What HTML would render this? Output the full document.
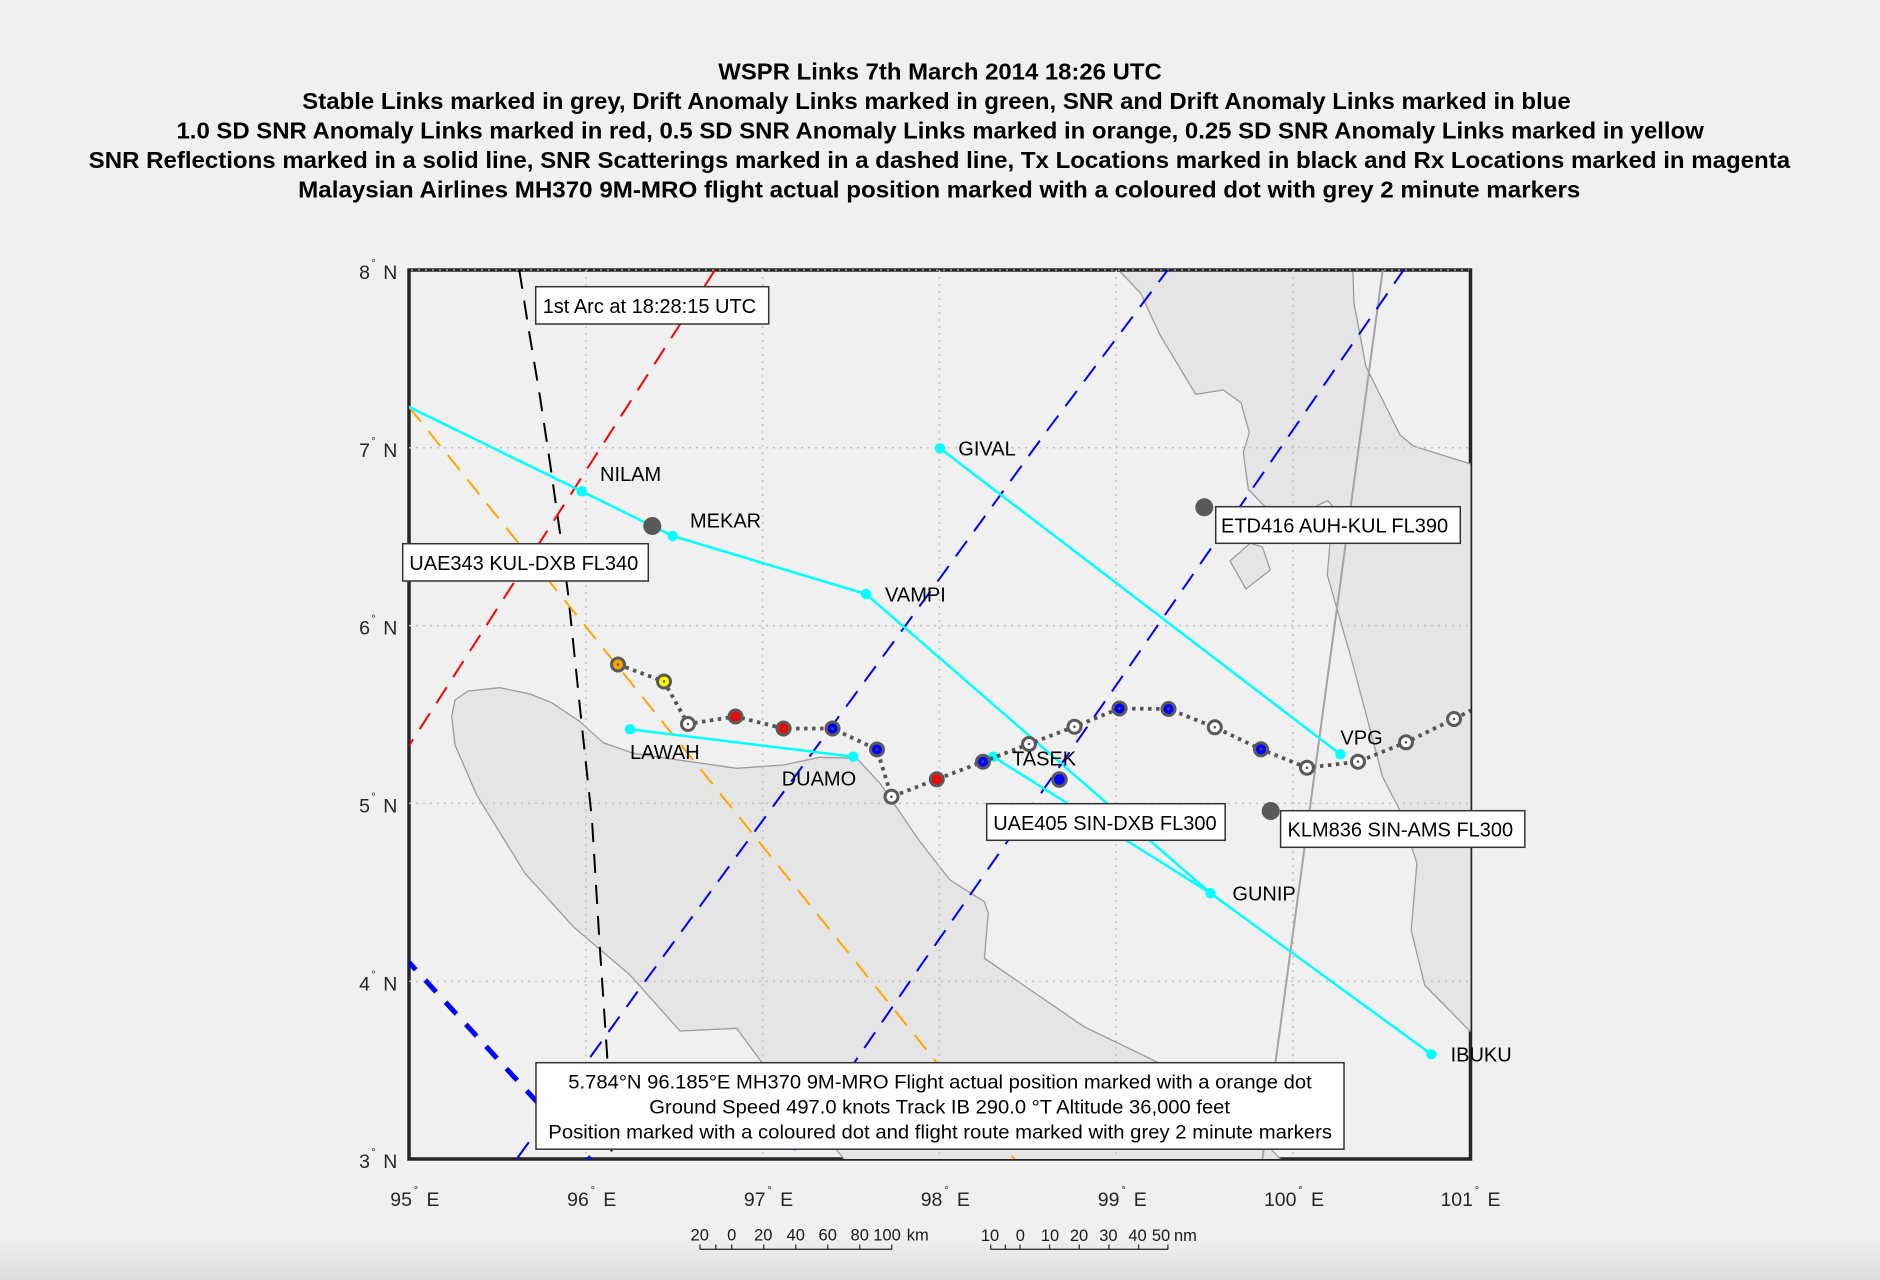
<!DOCTYPE html>
<html>
<head>
<meta charset="utf-8">
<style>
  html,body{margin:0;padding:0;background:#f0f0f0;}
  svg{display:block;}
  text{font-family:"Liberation Sans", Arial, Helvetica, sans-serif;}
</style>
</head>
<body>
<svg width="1880" height="1280" viewBox="0 0 1880 1280" xmlns="http://www.w3.org/2000/svg">
  <defs>
    <clipPath id="mapclip"><rect x="409" y="270" width="1061.5" height="889"/></clipPath>
    <clipPath id="landclip"><rect x="409" y="272" width="1061.5" height="887"/></clipPath>
    <linearGradient id="bottomfade" x1="0" y1="0" x2="0" y2="1">
      <stop offset="0" stop-color="#f0f0f0"/>
      <stop offset="1" stop-color="#dedede"/>
    </linearGradient>
  </defs>

  <!-- background -->
  <rect x="0" y="0" width="1880" height="1280" fill="#f0f0f0"/>
  <rect x="0" y="1236" width="1880" height="44" fill="url(#bottomfade)"/>

  <!-- Title -->
  <g font-weight="bold" font-size="23" fill="#000">
    <text x="718.3" y="79.3" textLength="443.4" lengthAdjust="spacingAndGlyphs">WSPR Links 7th March 2014 18:26 UTC</text>
    <text x="302.3" y="109" textLength="1268.4" lengthAdjust="spacingAndGlyphs">Stable Links marked in grey, Drift Anomaly Links marked in green, SNR and Drift Anomaly Links marked in blue</text>
    <text x="176.5" y="138.5" textLength="1527.3" lengthAdjust="spacingAndGlyphs">1.0 SD SNR Anomaly Links marked in red, 0.5 SD SNR Anomaly Links marked in orange, 0.25 SD SNR Anomaly Links marked in yellow</text>
    <text x="88.7" y="168" textLength="1701.4" lengthAdjust="spacingAndGlyphs">SNR Reflections marked in a solid line, SNR Scatterings marked in a dashed line, Tx Locations marked in black and Rx Locations marked in magenta</text>
    <text x="298.2" y="197.5" textLength="1282.1" lengthAdjust="spacingAndGlyphs">Malaysian Airlines MH370 9M-MRO flight actual position marked with a coloured dot with grey 2 minute markers</text>
  </g>

  <!-- Frame -->
  <rect x="409" y="270" width="1061.5" height="889" fill="#f0f0f0" stroke="#262626" stroke-width="3.5"/>

  <!-- Land -->
  <g clip-path="url(#landclip)" fill="#e5e5e5" stroke="#9c9c9c" stroke-width="1.3" stroke-linejoin="round">
    <!-- Sumatra -->
    <polygon points="880,783.3 920,841.7 950,880 984.4,901.7 988.3,913.3 984.4,958.3 1084,1026.7 1157,1062 1230,1105 1283,1162 846.7,1162 760,1060 736.7,1028.3 680,1031 630,975 573.3,926.7 525,873.3 476.7,795 455,745 451.7,716.7 455,700 468.3,691 500,687.7 530,694 551.7,702.7 580,721.7 603.3,742.7 633.3,753.3 666.7,758.3 736.7,768.3 783.3,765 820,757.3 856.7,758.3"/>
    <!-- Malay peninsula -->
    <polygon points="1116.7,268 1140.7,293.3 1160,335 1195.7,394.3 1223.3,390 1241,402.7 1249.3,432.7 1243.3,452.7 1248.3,489.3 1263.3,505 1290,522 1318.3,505 1327.7,500.7 1333.3,507 1330,543 1327.3,575 1351.7,660 1382.5,776.7 1399.7,810 1416.9,863.3 1411.2,930 1424.6,985 1470.5,1031.7 1473,1031.7 1473,464 1470.7,464 1413.3,446 1400,435 1366,366.7 1354,303.3 1352.7,268"/>
    <!-- island -->
    <polygon points="1250,543.3 1230,561 1246,589 1270.3,570 1262.3,546.7"/>
  </g>

  <!-- Gridlines -->
  <g stroke="#c4c4c4" stroke-width="1.5" stroke-dasharray="2 5" fill="none">
    <line x1="585.8" y1="270" x2="585.8" y2="1159"/>
    <line x1="762.6" y1="270" x2="762.6" y2="1159"/>
    <line x1="939.4" y1="270" x2="939.4" y2="1159"/>
    <line x1="1116.2" y1="270" x2="1116.2" y2="1159"/>
    <line x1="1293" y1="270" x2="1293" y2="1159"/>
    <line x1="409" y1="447.8" x2="1470" y2="447.8"/>
    <line x1="409" y1="625.6" x2="1470" y2="625.6"/>
    <line x1="409" y1="803.4" x2="1470" y2="803.4"/>
    <line x1="409" y1="981.4" x2="1470" y2="981.4"/>
  </g>
  <line x1="411" y1="270" x2="1469" y2="270" stroke="#bdbdbd" stroke-width="1.2" stroke-dasharray="2 5"/>

  <!-- Map content -->
  <g clip-path="url(#mapclip)" fill="none">
    <!-- stable grey link -->
    <line x1="1383" y1="268" x2="1262" y2="1162" stroke="#a3a3a3" stroke-width="2"/>

    <!-- dashed links -->
    <g stroke-width="2" stroke-dasharray="19 12">
      <polyline stroke="#000" points="519.3,270 528.3,327 540,397 550,463 560,533 568,593 575,660 582,727 592,820 600,950 607,1053 612,1162"/>
      <line stroke="#ff0000" x1="715" y1="270" x2="405" y2="752"/>
      <line stroke="#ffa500" x1="409" y1="407" x2="1016" y2="1161"/>
      <polyline stroke="#0000ff" points="1170,267 1050,426.7 895,640 753.3,833.3 640,988.3 516.7,1159 514,1163"/>
      <polyline stroke="#0000ff" points="1405,268 1135,658.3 920,966.7 788.3,1159 786,1162"/>
    </g>
    <line x1="405" y1="958" x2="593" y2="1163" stroke="#0000ff" stroke-width="5" stroke-dasharray="16 14"/>

    <!-- cyan solid links -->
    <g stroke="#00ffff" stroke-width="2.5">
      <polyline points="405,405 581.7,491.3 672.7,536 866,594 1210.6,893.3 1431.4,1054.3"/>
      <line x1="940" y1="448.3" x2="1340.4" y2="754.3"/>
      <line x1="630" y1="729.3" x2="853.3" y2="756.7"/>
      <line x1="993.2" y1="756.7" x2="1210.6" y2="893.3"/>
    </g>
    <g fill="#00ffff">
      <circle cx="581.7" cy="491.3" r="5.2"/>
      <circle cx="672.7" cy="536" r="5.2"/>
      <circle cx="866" cy="594" r="5.2"/>
      <circle cx="940" cy="448.3" r="5.2"/>
      <circle cx="630" cy="729.3" r="5.2"/>
      <circle cx="853.3" cy="756.7" r="5.2"/>
      <circle cx="993.2" cy="756.7" r="5.2"/>
      <circle cx="1340.4" cy="754.3" r="5.2"/>
      <circle cx="1210.6" cy="893.3" r="5.2"/>
      <circle cx="1431.4" cy="1054.3" r="5.2"/>
    </g>

    <!-- other aircraft -->
    <g fill="#595959">
      <circle cx="652.3" cy="526" r="9"/>
      <circle cx="1204.3" cy="507.3" r="9"/>
      <circle cx="1270.7" cy="811" r="9"/>
    </g>

    <!-- flight path -->
    <polyline points="618,664.5 664,681.5 688,724 735.5,716.5 783.5,728.5 832.5,728.5 877,749.5 891.5,796.7 936.8,779.3 983,761.7 1029,744 1074.5,726.7 1119.5,708.5 1168.5,709 1214.8,727.3 1261,749.3 1307,767.7 1358,761.7 1406,742.3 1454,719 1474,709" stroke="#555555" stroke-width="3.8" stroke-dasharray="3.5 4.5"/>
    <g stroke="#5a5a5a" stroke-width="3">
      <circle cx="618" cy="664.5" r="6.5" fill="#ffa500"/>
      <circle cx="664" cy="681.5" r="6.5" fill="#ffff00"/>
      <circle cx="688" cy="724" r="6.5" fill="#ffffff"/>
      <circle cx="735.5" cy="716.5" r="6.5" fill="#ff0000"/>
      <circle cx="783.5" cy="728.5" r="6.5" fill="#ff0000"/>
      <circle cx="832.5" cy="728.5" r="6.5" fill="#0000ff"/>
      <circle cx="877" cy="749.5" r="6.5" fill="#0000ff"/>
      <circle cx="891.5" cy="796.7" r="6.5" fill="#ffffff"/>
      <circle cx="936.8" cy="779.3" r="6.5" fill="#ff0000"/>
      <circle cx="983" cy="761.7" r="6.5" fill="#0000ff"/>
      <circle cx="1029" cy="744" r="6.5" fill="#ffffff"/>
      <circle cx="1074.5" cy="726.7" r="6.5" fill="#ffffff"/>
      <circle cx="1119.5" cy="708.5" r="6.5" fill="#0000ff"/>
      <circle cx="1168.5" cy="709" r="6.5" fill="#0000ff"/>
      <circle cx="1214.8" cy="727.3" r="6.5" fill="#ffffff"/>
      <circle cx="1261" cy="749.3" r="6.5" fill="#0000ff"/>
      <circle cx="1307" cy="767.7" r="6.5" fill="#ffffff"/>
      <circle cx="1358" cy="761.7" r="6.5" fill="#ffffff"/>
      <circle cx="1406" cy="742.3" r="6.5" fill="#ffffff"/>
      <circle cx="1454" cy="719" r="6.5" fill="#ffffff"/>
      <circle cx="1059.4" cy="779.5" r="6.8" fill="#0000ff"/>
    </g>
    <g fill="#555">
      <circle cx="618" cy="664.5" r="1.3"/><circle cx="664" cy="681.5" r="1.3"/><circle cx="688" cy="724" r="1.3"/>
      <circle cx="735.5" cy="716.5" r="1.3"/><circle cx="783.5" cy="728.5" r="1.3"/><circle cx="832.5" cy="728.5" r="1.3"/>
      <circle cx="877" cy="749.5" r="1.3"/><circle cx="891.5" cy="796.7" r="1.3"/><circle cx="936.8" cy="779.3" r="1.3"/>
      <circle cx="983" cy="761.7" r="1.3"/><circle cx="1029" cy="744" r="1.3"/><circle cx="1074.5" cy="726.7" r="1.3"/>
      <circle cx="1119.5" cy="708.5" r="1.3"/><circle cx="1168.5" cy="709" r="1.3"/><circle cx="1214.8" cy="727.3" r="1.3"/>
      <circle cx="1261" cy="749.3" r="1.3"/><circle cx="1307" cy="767.7" r="1.3"/><circle cx="1358" cy="761.7" r="1.3"/>
      <circle cx="1406" cy="742.3" r="1.3"/><circle cx="1454" cy="719" r="1.3"/>
    </g>
  </g>

  <!-- waypoint labels -->
  <g font-size="20" fill="#000">
    <text x="600" y="481">NILAM</text>
    <text x="690" y="527.3">MEKAR</text>
    <text x="958.3" y="455.7">GIVAL</text>
    <text x="885" y="601.7">VAMPI</text>
    <text x="630" y="759">LAWAH</text>
    <text x="781.7" y="785.7">DUAMO</text>
    <text x="1012" y="765.5">TASEK</text>
    <text x="1340.4" y="744.3">VPG</text>
    <text x="1232.4" y="900.7">GUNIP</text>
    <text x="1450.6" y="1061.7">IBUKU</text>
  </g>

  <!-- label boxes -->
  <g fill="#ffffff" stroke="#333" stroke-width="1.5">
    <rect x="535.7" y="286.7" width="233" height="37.3"/>
    <rect x="402.7" y="543.7" width="245.6" height="37.3"/>
    <rect x="1215.7" y="506.7" width="244.6" height="36.6"/>
    <rect x="986.7" y="803.7" width="238.5" height="36.6"/>
    <rect x="1280.6" y="810.7" width="244.2" height="36.6"/>
    <rect x="536" y="1062.7" width="808" height="86.5"/>
  </g>
  <g font-size="20" fill="#000">
    <text x="542.7" y="313">1st Arc at 18:28:15 UTC</text>
    <text x="409.3" y="570">UAE343 KUL-DXB FL340</text>
    <text x="1221" y="532.7">ETD416 AUH-KUL FL390</text>
    <text x="993.2" y="830">UAE405 SIN-DXB FL300</text>
    <text x="1287.5" y="836.7">KLM836 SIN-AMS FL300</text>
  </g>
  <g font-size="19.5" fill="#000">
    <text x="568.3" y="1088.3" textLength="743.4" lengthAdjust="spacingAndGlyphs">5.784°N 96.185°E MH370 9M-MRO Flight actual position marked with a orange dot</text>
    <text x="649.3" y="1113.3" textLength="580.7" lengthAdjust="spacingAndGlyphs">Ground Speed 497.0 knots Track IB 290.0 °T Altitude 36,000 feet</text>
    <text x="548.3" y="1138.3" textLength="783.7" lengthAdjust="spacingAndGlyphs">Position marked with a coloured dot and flight route marked with grey 2 minute markers</text>
  </g>

  <!-- Y axis labels -->
  <g font-size="19.5" fill="#262626">
    <text x="370" y="279" text-anchor="end">8</text><text x="383.3" y="279">N</text>
    <text x="370" y="456.8" text-anchor="end">7</text><text x="383.3" y="456.8">N</text>
    <text x="370" y="634.6" text-anchor="end">6</text><text x="383.3" y="634.6">N</text>
    <text x="370" y="812.6" text-anchor="end">5</text><text x="383.3" y="812.6">N</text>
    <text x="370" y="990.6" text-anchor="end">4</text><text x="383.3" y="990.6">N</text>
    <text x="370" y="1168" text-anchor="end">3</text><text x="383.3" y="1168">N</text>
  </g>
  <g font-size="11" fill="#262626" text-anchor="middle">
    <text x="373.5" y="267">°</text>
    <text x="373.5" y="444.8">°</text>
    <text x="373.5" y="622.6">°</text>
    <text x="373.5" y="800.6">°</text>
    <text x="373.5" y="978.6">°</text>
    <text x="373.5" y="1156">°</text>
  </g>

  <!-- X axis labels -->
  <g font-size="19.5" fill="#262626">
    <text x="412" y="1205.8" text-anchor="end">95</text><text x="426.5" y="1205.8">E</text>
    <text x="588.8" y="1205.8" text-anchor="end">96</text><text x="603.3" y="1205.8">E</text>
    <text x="765.6" y="1205.8" text-anchor="end">97</text><text x="780.1" y="1205.8">E</text>
    <text x="942.4" y="1205.8" text-anchor="end">98</text><text x="956.9" y="1205.8">E</text>
    <text x="1119.5" y="1205.8" text-anchor="end">99</text><text x="1133.7" y="1205.8">E</text>
    <text x="1296.5" y="1205.8" text-anchor="end">100</text><text x="1311" y="1205.8">E</text>
    <text x="1473" y="1205.8" text-anchor="end">101</text><text x="1487.5" y="1205.8">E</text>
  </g>
  <g font-size="11" fill="#262626" text-anchor="middle">
    <text x="416" y="1194">°</text>
    <text x="592.8" y="1194">°</text>
    <text x="769.6" y="1194">°</text>
    <text x="946.4" y="1194">°</text>
    <text x="1123.5" y="1194">°</text>
    <text x="1300.5" y="1194">°</text>
    <text x="1477" y="1194">°</text>
  </g>

  <!-- Scale bars -->
  <g stroke="#333" stroke-width="1.3" fill="none">
    <line x1="700" y1="1249.3" x2="891.7" y2="1249.3"/>
    <line x1="700" y1="1244.5" x2="700" y2="1249.3"/>
    <line x1="715.7" y1="1244.5" x2="715.7" y2="1249.3"/>
    <line x1="731.7" y1="1244.5" x2="731.7" y2="1249.3"/>
    <line x1="763.7" y1="1244.5" x2="763.7" y2="1249.3"/>
    <line x1="795.7" y1="1244.5" x2="795.7" y2="1249.3"/>
    <line x1="827.7" y1="1244.5" x2="827.7" y2="1249.3"/>
    <line x1="859.7" y1="1244.5" x2="859.7" y2="1249.3"/>
    <line x1="891.7" y1="1244.5" x2="891.7" y2="1249.3"/>

    <line x1="990.7" y1="1249.3" x2="1167.9" y2="1249.3"/>
    <line x1="990.7" y1="1244.5" x2="990.7" y2="1249.3"/>
    <line x1="1005.4" y1="1244.5" x2="1005.4" y2="1249.3"/>
    <line x1="1020" y1="1244.5" x2="1020" y2="1249.3"/>
    <line x1="1049.6" y1="1244.5" x2="1049.6" y2="1249.3"/>
    <line x1="1079.3" y1="1244.5" x2="1079.3" y2="1249.3"/>
    <line x1="1108.9" y1="1244.5" x2="1108.9" y2="1249.3"/>
    <line x1="1138.6" y1="1244.5" x2="1138.6" y2="1249.3"/>
    <line x1="1167.9" y1="1244.5" x2="1167.9" y2="1249.3"/>
  </g>
  <g font-size="16.5" fill="#1a1a1a" text-anchor="middle">
    <text x="699.7" y="1240.7">20</text>
    <text x="731.7" y="1240.7">0</text>
    <text x="763.3" y="1240.7">20</text>
    <text x="795.7" y="1240.7">40</text>
    <text x="827.7" y="1240.7">60</text>
    <text x="859.7" y="1240.7">80</text>
    <text x="887" y="1240.7">100</text>
    <text x="906.7" y="1240.7" text-anchor="start">km</text>

    <text x="990" y="1241">10</text>
    <text x="1020.4" y="1241">0</text>
    <text x="1050" y="1241">10</text>
    <text x="1079" y="1241">20</text>
    <text x="1108.4" y="1241">30</text>
    <text x="1137.5" y="1241">40</text>
    <text x="1161" y="1241">50</text>
    <text x="1174" y="1241" text-anchor="start">nm</text>
  </g>
</svg>
</body>
</html>
